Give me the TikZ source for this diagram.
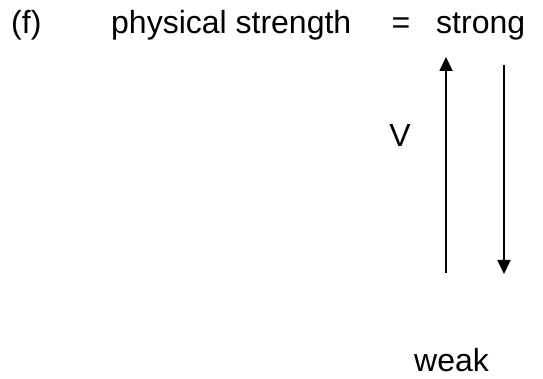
\documentclass[tikz,border=0pt]{standalone}
\usepackage{fontspec}
\setmainfont{Liberation Sans}
\usetikzlibrary{arrows.meta}

\begin{document}
\begin{tikzpicture}[x=1pt,y=-1pt,
    lbl/.style={inner sep=0pt,anchor=base west,font=\fontsize{32}{38}\selectfont},
    flow/.style={-{Triangle[length=14pt,width=13pt]},line width=1.8pt}
  ]
    \useasboundingbox (0,0) rectangle (543,379);
    \node[lbl] (tag) at (11,34) {(f)};
    \node[lbl] (attr) at (111,34) {physical strength};
    \node[lbl,anchor=base] (eq) at (401,34) {=};
    \node[lbl] (top) at (436,34) {strong};
    \node[lbl,anchor=base] (vlab) at (400,147) {V};
    \node[lbl] (bot) at (414,371) {weak};
    \coordinate (upfrom) at (446,273);
    \coordinate (upto) at (446,57);
    \coordinate (dnfrom) at (504,65);
    \coordinate (dnto) at (504,274);
    \draw[flow] (upfrom) -- (upto);
    \draw[flow] (dnfrom) -- (dnto);
\end{tikzpicture}
\end{document}
